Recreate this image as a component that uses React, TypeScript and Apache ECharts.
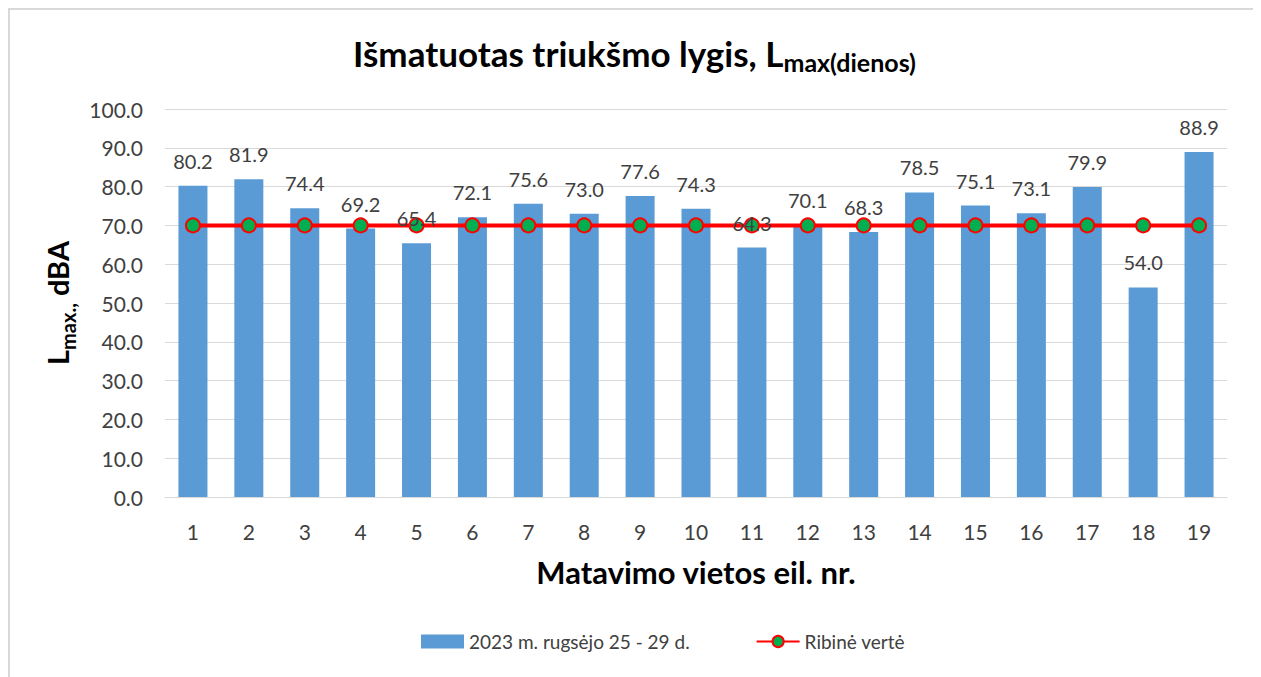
import React, { useEffect, useRef } from "react";
import * as echarts from "echarts";

const categories = ["1","2","3","4","5","6","7","8","9","10","11","12","13","14","15","16","17","18","19"];
const measured = [80.2,81.9,74.4,69.2,65.4,72.1,75.6,73.0,77.6,74.3,64.3,70.1,68.3,78.5,75.1,73.1,79.9,54.0,88.9];
const limit = [70,70,70,70,70,70,70,70,70,70,70,70,70,70,70,70,70,70,70];
const barName = "2023 m. rugsėjo 25 - 29 d.";
const lineName = "Ribinė vertė";
const FONT = "Lato, 'Noto Sans', sans-serif";

export default function App() {
  const ref = useRef<HTMLDivElement>(null);
  useEffect(() => {
    const chart = echarts.init(ref.current!, null, { renderer: "svg" });
    const labelCfg = {
      show: true,
      position: "top",
      distance: 15,
      color: "#404040",
      fontSize: 20,
      fontFamily: FONT,
      formatter: (p: any) => Number(p.value).toFixed(1),
    };
    chart.setOption({
      animation: false,
      textStyle: { fontFamily: FONT },
      graphic: [
        {
          type: "rect",
          shape: { x: 1, y: 1, width: 1248, height: 720 },
          style: { fill: "none", stroke: "#d9d9d9", lineWidth: 2 },
          silent: true,
        },
      ],
      title: {
        text: "{a|Išmatuotas triukšmo lygis, L}{b|max(dienos)}",
        left: "center",
        top: 17,
        textStyle: {
          rich: {
            a: { fontFamily: FONT, fontSize: 35, fontWeight: "bold", color: "#000", verticalAlign: "bottom", lineHeight: 40 },
            b: { fontFamily: FONT, fontSize: 25, fontWeight: "bold", color: "#000", verticalAlign: "bottom", lineHeight: 32, padding: [0, 0, -4, 0] },
          },
        },
      },
      legend: {
        left: 408,
        top: 619,
        itemWidth: 43,
        itemHeight: 14,
        itemGap: 66,
        textStyle: { fontFamily: FONT, fontSize: 19, color: "#404040" },
        data: [
          { name: barName, icon: "rect" },
          { name: lineName },
        ],
      },
      grid: { left: 157, right: 34, top: 101, bottom: 180, containLabel: false },
      xAxis: {
        type: "category",
        data: categories,
        axisTick: { show: false },
        axisLine: { lineStyle: { color: "#d9d9d9", width: 1 } },
        axisLabel: { color: "#404040", fontSize: 21, margin: 24, fontFamily: FONT },
        name: "Matavimo vietos eil. nr.",
        nameLocation: "middle",
        nameGap: 59,
        nameTextStyle: { fontFamily: FONT, fontSize: 31, fontWeight: "bold", color: "#000" },
      },
      yAxis: {
        type: "value",
        min: 0,
        max: 100,
        interval: 10,
        axisLine: { show: false },
        axisTick: { show: false },
        splitLine: { lineStyle: { color: "#d9d9d9", width: 1 } },
        axisLabel: { color: "#404040", fontSize: 21, margin: 22, fontFamily: FONT, formatter: (v: number) => v.toFixed(1) },
        name: "{a|L}{b|max.,}{a| dBA}",
        nameLocation: "middle",
        nameGap: 85,
        nameRotate: 90,
        nameTextStyle: {
          rich: {
            a: { fontFamily: FONT, fontSize: 29, fontWeight: "bold", color: "#000", verticalAlign: "bottom", lineHeight: 34 },
            b: { fontFamily: FONT, fontSize: 20, fontWeight: "bold", color: "#000", verticalAlign: "bottom", lineHeight: 26, padding: [0, 0, -6, 0] },
          },
        },
      },
      series: [
        {
          name: barName,
          type: "bar",
          data: measured,
          barWidth: 29,
          itemStyle: { color: "#5b9bd5" },
          label: { show: false },
          z: 2,
        },
        {
          name: lineName,
          type: "line",
          data: limit,
          symbol: "circle",
          symbolSize: 14,
          lineStyle: { color: "#ff0000", width: 4 },
          itemStyle: { color: "#00b050", borderColor: "#ff0000", borderWidth: 2 },
          z: 3,
        },
        {
          name: "labels",
          type: "bar",
          data: measured,
          barWidth: 29,
          barGap: "-100%",
          itemStyle: { color: "rgba(0,0,0,0)" },
          label: labelCfg,
          silent: true,
          tooltip: { show: false },
          z: 5,
        },
      ],
    });
    return () => chart.dispose();
  }, []);
  return <div ref={ref} style={{ width: 1253, height: 669 }} />;
}
